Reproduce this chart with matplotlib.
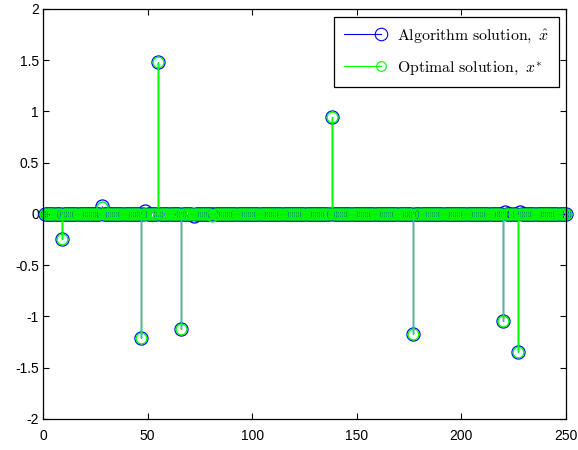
import numpy as np
import matplotlib
matplotlib.use("Agg")
import matplotlib.pyplot as plt
from matplotlib.lines import Line2D
from matplotlib.legend_handler import HandlerLine2D

plt.rcParams['font.family'] = ['Liberation Sans', 'DejaVu Sans']
plt.rcParams['mathtext.fontset'] = 'cm'

# Signal length and the few nonzero entries
n_samples = 250
alg_idx = [9, 28, 47, 49, 55, 66, 72, 138, 177, 220, 221, 227, 228]
alg_vals = [-0.24, 0.08, -1.21, 0.03, 1.48, -1.12, -0.02, 0.95, -1.17, -1.045, 0.02, -1.35, 0.02]
opt_idx = [9, 28, 47, 55, 66, 81, 138, 177, 220, 227]
opt_vals = [-0.24, 0.07, -1.21, 1.48, -1.12, -0.02, 0.95, -1.17, -1.045, -1.35]

x_ticks = [0, 50, 100, 150, 200, 250]
y_ticks = [-2, -1.5, -1, -0.5, 0, 0.5, 1, 1.5, 2]

x = np.arange(1, n_samples + 1)
x_alg = np.zeros(n_samples)
x_alg[np.array(alg_idx) - 1] = alg_vals
x_opt = np.zeros(n_samples)
x_opt[np.array(opt_idx) - 1] = opt_vals


class EndMarkerHandler(HandlerLine2D):
    """ Legend entry with the marker at the right end of the line (MATLAB style) """

    def create_artists(self, *args, **kwargs):
        artists = super().create_artists(*args, **kwargs)
        for a in artists:
            a.set_markevery([2])
        return artists


fig = plt.figure(figsize=(5.78, 4.5), dpi=100)
ax = fig.add_axes([0.0744, 0.069, 0.9046, 0.911])

# Algorithm solution (blue), then optimal solution (green) on top
for vals, col, ms, mew in [(x_alg, (0, 0, 1), 9.4, 0.9), (x_opt, (0, 1, 0), 7.8, 1.0)]:
    markers, stems, base = ax.stem(x, vals, basefmt=' ')
    stems.set_color(col)
    stems.set_linewidth(1.0)
    markers.set_markerfacecolor('none')
    markers.set_markeredgecolor(col)
    markers.set_markersize(ms)
    markers.set_markeredgewidth(mew)
    markers.set_clip_on(False)

ax.set_xlim(0, 250)
ax.set_ylim(-2, 2)
ax.set_xticks(x_ticks)
ax.set_yticks(y_ticks)
ax.set_yticklabels([f'{t:g}' for t in y_ticks])
ax.tick_params(direction='in', length=4, width=0.8, labelsize=10,
               top=True, right=True)
ax.tick_params(axis='x', pad=7)
ax.tick_params(axis='y', pad=3)
for s in ax.spines.values():
    s.set_linewidth(0.9)

h_alg = Line2D([], [], color=(0, 0, 1), lw=0.8, marker='o', mfc='none',
               mec=(0, 0, 1), ms=9, mew=0.8)
h_opt = Line2D([], [], color=(0, 1, 0), lw=0.8, marker='o', mfc='none',
               mec=(0, 1, 0), ms=7, mew=0.8)
leg = ax.legend([h_alg, h_opt],
                [r'$\mathrm{Algorithm\ solution,}\ \hat{x}$',
                 r'$\mathrm{Optimal\ solution,}\ x^{*}$'],
                loc='upper right', numpoints=1, fontsize=11.4, handlelength=2.3,
                handletextpad=1.0, labelspacing=0.9, borderpad=0.65,
                borderaxespad=0, fancybox=False, framealpha=1, edgecolor='black',
                handler_map={Line2D: EndMarkerHandler()},
                bbox_to_anchor=(0.9866, 0.9805))
leg.get_frame().set_linewidth(0.9)

fig.savefig('out.png', dpi=100)
